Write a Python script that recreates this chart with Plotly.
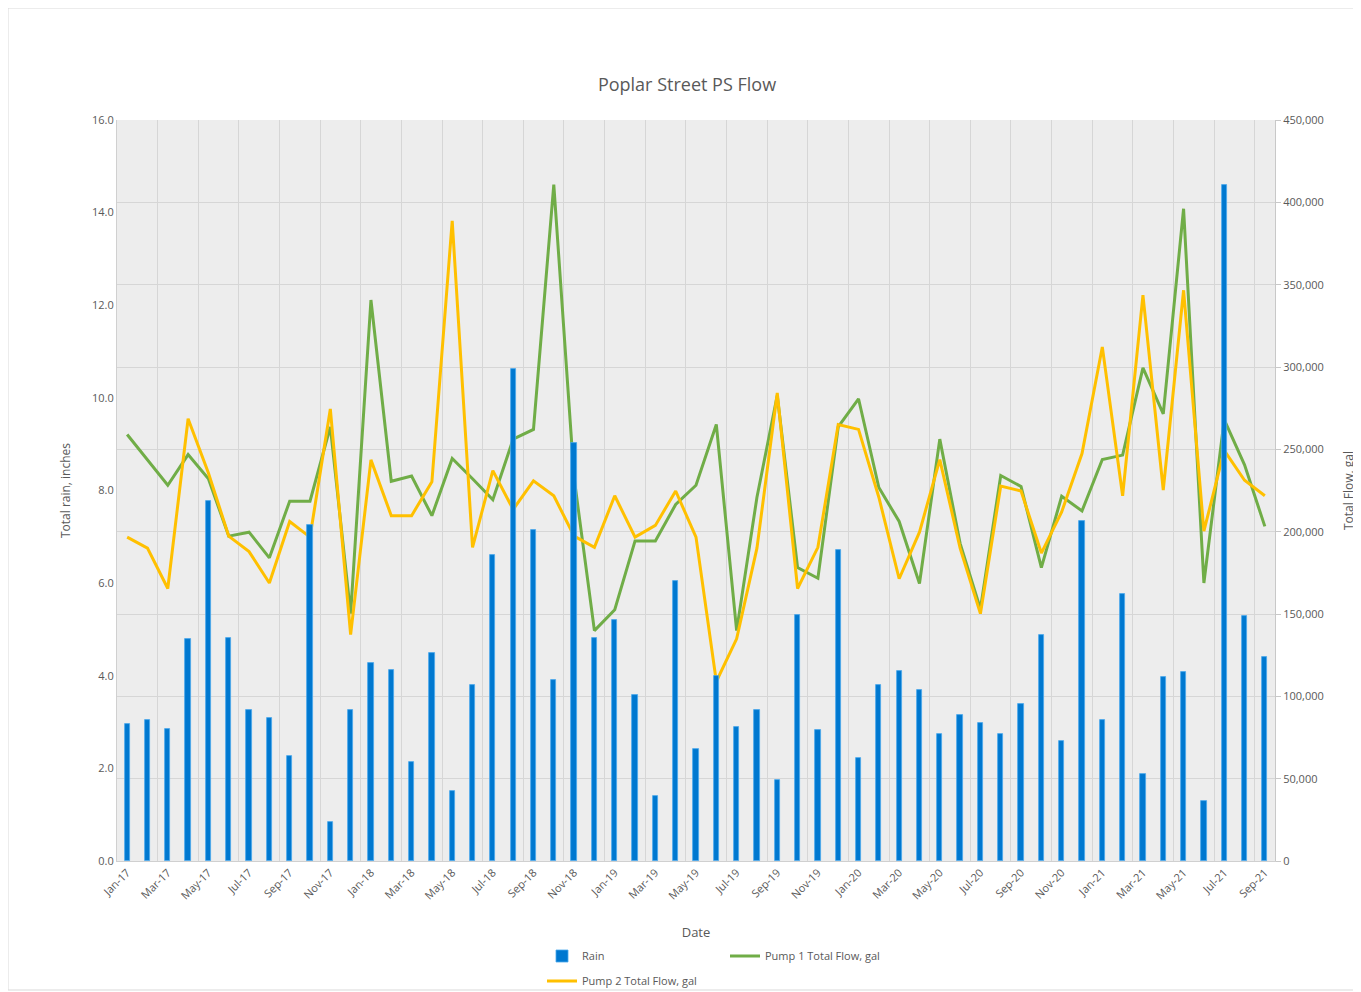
import plotly.graph_objects as go

months = [
    "Jan-17","Feb-17","Mar-17","Apr-17","May-17","Jun-17","Jul-17","Aug-17","Sep-17","Oct-17","Nov-17","Dec-17",
    "Jan-18","Feb-18","Mar-18","Apr-18","May-18","Jun-18","Jul-18","Aug-18","Sep-18","Oct-18","Nov-18","Dec-18",
    "Jan-19","Feb-19","Mar-19","Apr-19","May-19","Jun-19","Jul-19","Aug-19","Sep-19","Oct-19","Nov-19","Dec-19",
    "Jan-20","Feb-20","Mar-20","Apr-20","May-20","Jun-20","Jul-20","Aug-20","Sep-20","Oct-20","Nov-20","Dec-20",
    "Jan-21","Feb-21","Mar-21","Apr-21","May-21","Jun-21","Jul-21","Aug-21","Sep-21",
]

rain = [
    2.95, 3.04, 2.85, 4.80, 7.78, 4.82, 3.25, 3.09, 2.27, 7.25, 0.84, 3.27,
    4.27, 4.12, 2.13, 4.50, 1.52, 3.80, 6.60, 10.63, 7.14, 3.91, 9.03, 4.82,
    5.21, 3.58, 1.41, 6.05, 2.41, 4.00, 2.90, 3.25, 1.75, 5.32, 2.83, 6.72,
    2.22, 3.80, 4.10, 3.70, 2.75, 3.16, 2.98, 2.75, 3.40, 4.87, 2.60, 7.35,
    3.04, 5.76, 1.88, 3.98, 4.08, 1.29, 14.59, 5.29, 4.40,
]

pump1 = [
    259000, 243800, 228200, 246800, 232100, 197300, 199700, 184100, 218500, 218500, 263600, 150200,
    340700, 230600, 233800, 209700, 244400, 232100, 219400, 256200, 262100, 410800, 232700, 139900,
    152600, 194400, 194400, 216500, 228200, 265100, 139900, 220900, 282700, 178200, 171700, 263600,
    280700, 226800, 206200, 168500, 256200, 192900, 153100, 234100, 227400, 178200, 221500, 212600,
    243800, 246500, 299500, 271500, 396100, 168800, 268000, 240600, 203200,
]

pump2 = [
    196700, 190000, 165500, 268600, 235600, 197300, 187900, 168800, 206200, 196700, 274500, 137500,
    243600, 209700, 209700, 230300, 388700, 190500, 237100, 213500, 230900, 221800, 197300, 190500,
    221800, 196700, 203800, 224700, 196700, 109000, 134900, 190000, 284200, 165500, 190500, 265100,
    262100, 220900, 171400, 199700, 243800, 190000, 150200, 227700, 224700, 187000, 212000, 247400,
    312200, 221800, 343700, 225300, 346600, 200300, 249400, 231200, 221800,
]

left_ticks = [0, 2, 4, 6, 8, 10, 12, 14, 16]
right_ticks = [0, 50000, 100000, 150000, 200000, 250000, 300000, 350000, 400000, 450000]

x = list(range(len(months)))
tick_idx = x[::2]
tick_txt = [months[i] for i in tick_idx]

FONT = "Open Sans"
GREY = "#595959"

# page body margin offsets the figure by 8px
OFF = 8
W, H = 1361 - OFF, 992 - OFF
PL, PT, PR, PB = 117 - OFF, 120 - OFF, 1275 - OFF, 861 - OFF  # plot area in figure px
ML, MT, MR, MB = PL, PT, W - PR, H - PB
PW, PH = PR - PL, PB - PT


def paper_x(screen_px):
    return (screen_px - OFF - PL) / PW


def paper_y(screen_py):
    return (PB - (screen_py - OFF)) / PH


def cont_y(screen_py):
    return 1 - (screen_py - OFF) / H


fig = go.Figure()

fig.add_trace(go.Scatter(
    x=x, y=pump1, name="Pump 1 Total Flow, gal", mode="lines",
    line=dict(color="#70ad47", width=3), yaxis="y", legend="legend",
))
fig.add_trace(go.Scatter(
    x=x, y=pump2, name="Pump 2 Total Flow, gal", mode="lines",
    line=dict(color="#ffc000", width=3), yaxis="y", legend="legend2",
))
fig.add_trace(go.Bar(
    x=x, y=rain, name="Rain", width=0.26,
    marker=dict(color="#0078d0", line=dict(color="#4aa8ec", width=0.8)),
    yaxis="y2", legend="legend",
))

fig.update_layout(
    width=W, height=H,
    margin=dict(l=ML, r=MR, t=MT, b=MB, autoexpand=False),
    paper_bgcolor="white",
    plot_bgcolor="#ededed",
    font=dict(family=FONT, size=11, color=GREY),
    title=dict(text="Poplar Street PS Flow", x=paper_x(687), xanchor="center",
               xref="paper", yref="container",
               y=cont_y(85), yanchor="middle",
               font=dict(family=FONT, size=18, color=GREY)),
    bargap=0,
    xaxis=dict(
        range=[-0.5, len(months) - 0.5],
        tickmode="array", tickvals=tick_idx, ticktext=tick_txt,
        tickangle=-45, showgrid=False, zeroline=False,
        ticks="", tickfont=dict(size=11, color=GREY),
        showline=True, linecolor="#d0d0d0", linewidth=1,
        title=dict(text="Date", font=dict(size=13, color=GREY), standoff=28),
        minor=dict(tickmode="linear", tick0=1.5, dtick=2, showgrid=True,
                   gridcolor="#d6d6d6", gridwidth=1, ticks=""),
    ),
    yaxis=dict(
        side="right", range=[0, 450000], tickmode="array", tickvals=right_ticks,
        tickformat=",", showgrid=True, gridcolor="#d6d6d6", gridwidth=1,
        zeroline=False, showline=True, linecolor="#c8c8c8", linewidth=1,
        ticks="outside", ticklen=5, tickcolor="#c8c8c8",
        tickfont=dict(size=11, color=GREY),
        title=dict(text="Total Flow, gal", font=dict(size=12, color=GREY), standoff=21),
    ),
    yaxis2=dict(
        overlaying="y", side="left", range=[0, 16], tickmode="array",
        tickvals=left_ticks, tickformat=".1f", showgrid=False, zeroline=False,
        showline=True, linecolor="#d0d0d0", linewidth=1,
        tickfont=dict(size=11, color=GREY),
        title=dict(text="Total rain, inches", font=dict(size=12, color=GREY), standoff=18),
    ),
    legend=dict(
        orientation="h", xref="paper", yref="container",
        x=paper_x(542), xanchor="left", y=cont_y(956), yanchor="middle",
        font=dict(size=11, color=GREY), bgcolor="rgba(0,0,0,0)",
        traceorder="reversed", entrywidth=138, entrywidthmode="pixels",
    ),
    legend2=dict(
        orientation="h", xref="paper", yref="container",
        x=paper_x(542), xanchor="left", y=cont_y(981), yanchor="middle",
        font=dict(size=11, color=GREY), bgcolor="rgba(0,0,0,0)",
    ),
    shapes=[dict(
        type="rect", xref="paper", yref="paper",
        x0=paper_x(8), x1=paper_x(1357), y0=paper_y(990), y1=paper_y(8),
        line=dict(color="#d9d9d9", width=1), fillcolor="rgba(0,0,0,0)", layer="below",
    )],
)

fig.write_html("out.html")
